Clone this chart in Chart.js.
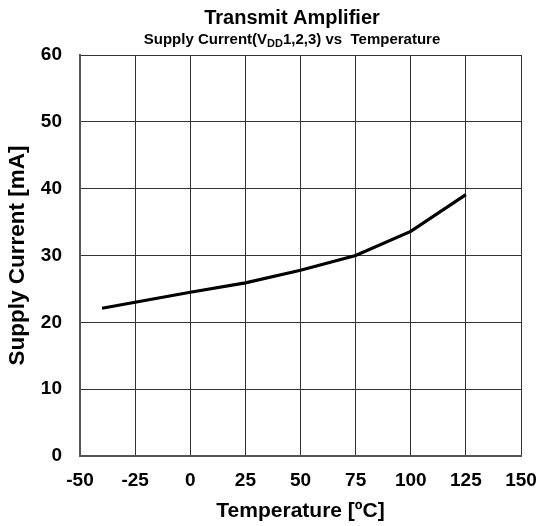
<!DOCTYPE html>
<html>
<head>
<meta charset="utf-8">
<script src="https://cdn.jsdelivr.net/npm/chart.js@4.4.0/dist/chart.umd.min.js"></script>
<style>
  html, body { margin: 0; padding: 0; background: #ffffff; }
  #wrap { position: relative; width: 539px; height: 526px; }
</style>
</head>
<body>
<div id="wrap"><canvas id="c" width="539" height="526"></canvas></div>
<script>
const temperatures = [-40, -25, 0, 25, 50, 75, 100, 125];
const supplyCurrent = [22.1, 23.0, 24.5, 25.9, 27.8, 30.0, 33.6, 39.1];
const xTicks = [-50, -25, 0, 25, 50, 75, 100, 125, 150];
const yTicks = [0, 10, 20, 30, 40, 50, 60];
const titleText = 'Transmit Amplifier';
const subtitleParts = ['Supply Current(V', 'DD', '1,2,3) vs  Temperature'];
const xTitle = 'Temperature [ºC]';
const yTitle = 'Supply Current [mA]';

const FONT = "'Liberation Sans', Arial, sans-serif";

const titlePlugin = {
  id: 'titles',
  afterDraw(chart) {
    const ctx = chart.ctx;
    ctx.save();
    ctx.fillStyle = '#000';
    ctx.textBaseline = 'alphabetic';
    ctx.textAlign = 'center';
    ctx.font = 'bold 20px ' + FONT;
    ctx.fillText(titleText, 292, 23.5);
    const mainF = 'bold 15px ' + FONT;
    const subF = 'bold 11px ' + FONT;
    ctx.textAlign = 'left';
    ctx.font = mainF; const w0 = ctx.measureText(subtitleParts[0]).width;
    ctx.font = subF;  const w1 = ctx.measureText(subtitleParts[1]).width;
    ctx.font = mainF; const w2 = ctx.measureText(subtitleParts[2]).width;
    let x = 292 - (w0 + w1 + w2) / 2;
    const base = 43.5;
    ctx.font = mainF; ctx.fillText(subtitleParts[0], x, base); x += w0;
    ctx.font = subF;  ctx.fillText(subtitleParts[1], x, base + 3); x += w1;
    ctx.font = mainF; ctx.fillText(subtitleParts[2], x, base);
    ctx.restore();
  }
};

new Chart(document.getElementById('c'), {
  type: 'scatter',
  data: {
    datasets: [{
      data: temperatures.map((t, i) => ({ x: t, y: supplyCurrent[i] })),
      showLine: true,
      borderColor: '#000000',
      borderWidth: 3.2,
      pointRadius: 0,
      tension: 0,
      fill: false
    }]
  },
  options: {
    responsive: false,
    animation: false,
    devicePixelRatio: 1,
    layout: { padding: { top: 55, right: 18, left: 0, bottom: 0 } },
    plugins: { legend: { display: false }, tooltip: { enabled: false }, title: { display: false } },
    scales: {
      x: {
        type: 'linear',
        min: -50, max: 150,
        afterBuildTicks(s) { s.ticks = xTicks.map(v => ({ value: v })); },
        afterFit(s) { s.height = 70; s.paddingRight = 0; s.paddingLeft = 0; },
        grid: { color: '#333333', lineWidth: 1, drawTicks: false },
        border: { color: '#555555', width: 2 },
        ticks: { color: '#000', font: { family: FONT, size: 19, weight: 'bold' }, padding: 13, maxRotation: 0, autoSkip: false },
        title: { display: true, text: xTitle, color: '#000', font: { family: FONT, size: 21, weight: 'bold' }, padding: { top: 0, bottom: 2 } }
      },
      y: {
        min: 0, max: 60,
        afterBuildTicks(s) { s.ticks = yTicks.map(v => ({ value: v })); },
        afterFit(s) { s.width = 80; s.paddingTop = 0; s.paddingBottom = 0; },
        grid: { color: '#333333', lineWidth: 1, drawTicks: false },
        border: { color: '#555555', width: 2 },
        ticks: { color: '#000', font: { family: FONT, size: 19, weight: 'bold' }, padding: 18 },
        title: { display: true, text: yTitle, color: '#000', font: { family: FONT, size: 22.5, weight: 'bold' }, padding: { top: 4, bottom: 0 } }
      }
    }
  },
  plugins: [titlePlugin]
});
</script>
</body>
</html>
